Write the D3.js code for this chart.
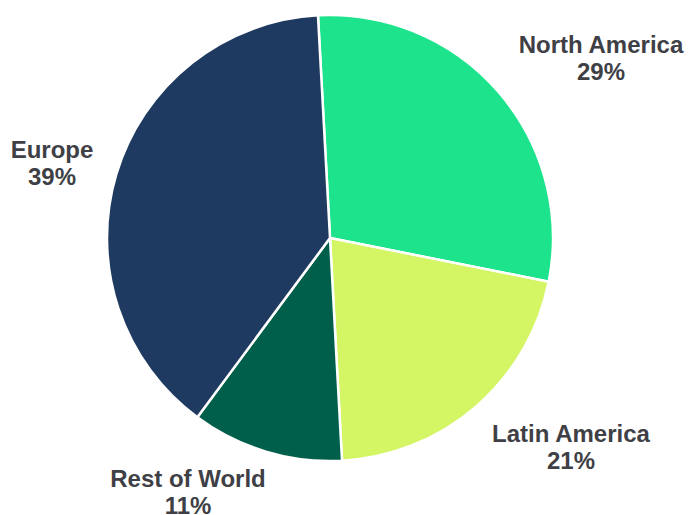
<!DOCTYPE html>
<html>
<head>
<meta charset="utf-8">
<script src="https://cdn.jsdelivr.net/npm/d3@7"></script>
<style>
  html, body { margin: 0; padding: 0; background: #ffffff; }
  svg { display: block; }
</style>
</head>
<body>
<div id="chart"></div>
<script>
const categories = ["North America", "Latin America", "Rest of World", "Europe"];
const values = [29, 21, 11, 39];
const colors = ["#1de38c", "#d4f564", "#005f4b", "#1f3a60"];

const W = 688, H = 515;
const cx = 330, cy = 238, R = 223;
// label anchor (text centre x, first baseline y) relative to the pie centre
const labelOffsets = [[271, -185], [241, 204], [-142, 249], [-278, -80]];

const svg = d3.select("#chart").append("svg").attr("width", W).attr("height", H);
const g = svg.append("g").attr("transform", `translate(${cx},${cy})`);

const start = -0.054;
const pie = d3.pie().sort(null).value(d => d.value).startAngle(start).endAngle(start + 2 * Math.PI);
const data = categories.map((c, i) => ({ name: c, value: values[i], color: colors[i] }));
const arcs = pie(data);
const arc = d3.arc().innerRadius(0).outerRadius(R);

g.selectAll("path").data(arcs).join("path")
  .attr("d", arc)
  .attr("fill", d => d.data.color)
  .attr("stroke", "#ffffff")
  .attr("stroke-width", 2.5)
  .attr("stroke-linejoin", "round");

const total = d3.sum(values);
const labels = g.selectAll("text.lbl").data(arcs).join("text")
  .attr("class", "lbl")
  .attr("text-anchor", "middle")
  .attr("font-family", "'Liberation Sans', Arial, sans-serif")
  .attr("font-weight", "bold")
  .attr("font-size", 24)
  .attr("fill", "#3f3f46")
  .attr("transform", (d, i) => `translate(${labelOffsets[i][0]},${labelOffsets[i][1]})`);
labels.append("tspan").attr("x", 0).attr("y", 0).text(d => d.data.name);
labels.append("tspan").attr("x", 0).attr("y", 27).text(d => Math.round(d.data.value / total * 100) + "%");
</script>
</body>
</html>
